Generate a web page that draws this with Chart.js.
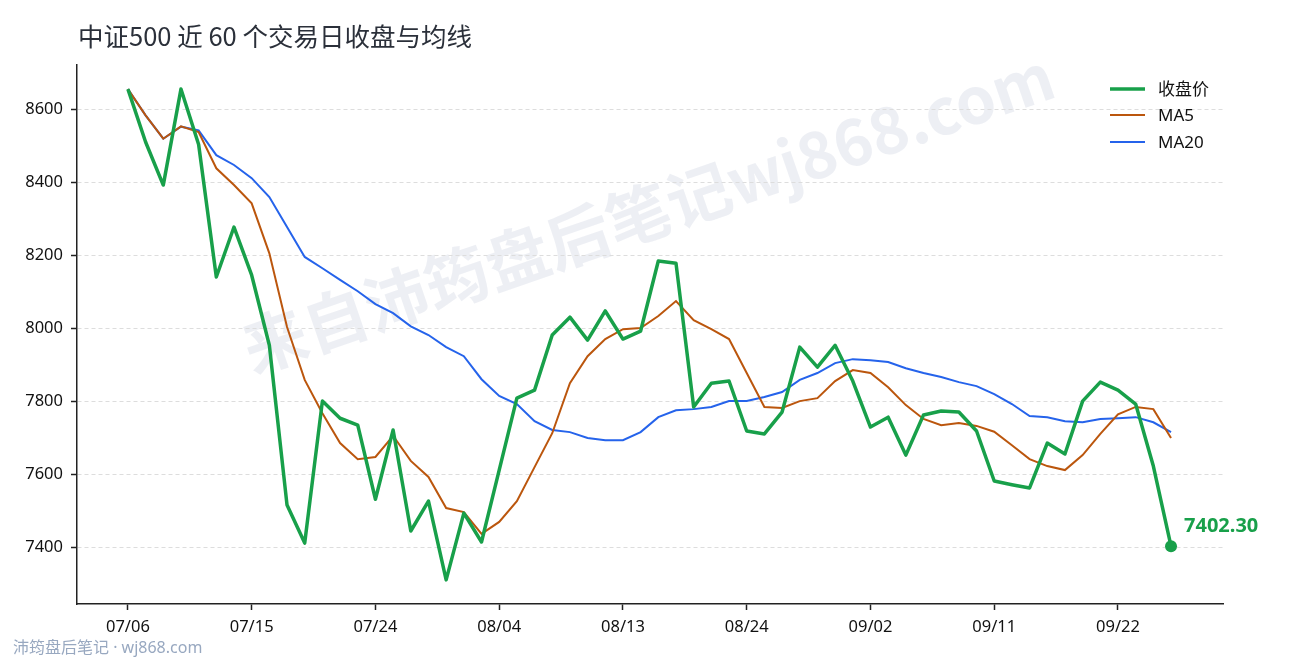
<!DOCTYPE html>
<html>
<head>
<meta charset="utf-8">
<script src="https://cdn.jsdelivr.net/npm/chart.js@4/dist/chart.umd.min.js"></script>
<style>
html,body{margin:0;padding:0;background:#fff;}
#wrap{width:1290px;height:660px;position:relative;}
canvas{display:block;}
</style>
</head>
<body>
<div id="wrap"><canvas id="c" width="1290" height="660"></canvas></div>
<script>
const titleText = '中证500 近 60 个交易日收盘与均线';
const footerText = '沛筠盘后笔记 · wj868.com';
const watermarkText = '来自沛筠盘后笔记wj868.com';
const seriesNames = ['收盘价', 'MA5', 'MA20'];

const dates = ['07/06','07/07','07/08','07/10','07/11','07/12','07/13','07/15',
'07/17','07/18','07/19','07/20','07/21','07/22','07/24',
'07/25','07/26','07/28','07/29','07/31','08/01','08/04',
'08/05','08/07','08/08','08/09','08/10','08/11','08/13',
'08/14','08/15','08/17','08/18','08/21','08/22','08/24',
'08/25','08/28','08/29','08/30','08/31','09/01','09/02',
'09/04','09/05','09/06','09/07','09/08','09/10','09/11',
'09/12','09/14','09/15','09/18','09/19','09/20','09/22',
'09/25','09/26','09/27'];

const closeValues = [8655, 8510, 8392, 8655, 8503, 8140, 8277, 8145, 7953, 7515,
7411, 7800, 7753, 7734, 7531, 7721, 7444, 7526, 7310, 7493,
7414, 7611, 7808, 7830, 7981, 8030, 7967, 8047, 7970, 7992,
8184, 8178, 7784, 7849, 7855, 7718, 7710, 7770, 7948, 7893,
7953, 7855, 7729, 7756, 7652, 7762, 7773, 7770, 7718, 7581,
7571, 7562, 7685, 7655, 7800, 7852, 7830, 7792, 7622, 7402.30];

const ma5Values = [8655, 8583, 8519, 8553, 8537, 8438, 8392, 8342, 8205, 8003,
7858, 7767, 7685, 7641, 7647, 7705, 7636, 7592, 7507, 7496,
7436, 7469, 7526, 7619, 7712, 7849, 7923, 7970, 7997, 8000,
8033, 8074, 8022, 7997, 7970, 7877, 7784, 7781, 7800, 7808,
7855, 7885, 7877, 7838, 7789, 7751, 7734, 7740, 7732, 7716,
7679, 7641, 7622, 7611, 7652, 7710, 7764, 7784, 7778, 7699];

const ma20Values = [8655, 8583, 8519, 8552, 8542, 8474, 8447, 8411, 8359, 8277,
8195, 8164, 8132, 8101, 8066, 8041, 8005, 7981, 7948, 7923,
7860, 7814, 7792, 7745, 7721, 7715, 7699, 7693, 7693, 7715,
7756, 7775, 7778, 7784, 7800, 7800, 7811, 7825, 7858, 7877,
7904, 7915, 7912, 7907, 7890, 7877, 7866, 7852, 7841, 7819,
7792, 7759, 7756, 7745, 7742, 7751, 7753, 7756, 7742, 7715];

const xTickIndices = [0, 7, 14, 21, 28, 35, 42, 49, 56];
const yTickValues = [7400, 7600, 7800, 8000, 8200, 8400, 8600];

const colors = ['#18a04a', '#bb560d', '#2563eb'];
const FONT = '"Noto Sans", "Noto Sans CJK SC", sans-serif';
const CJK = '"Noto Sans CJK SC", "Noto Sans", sans-serif';

const toPts = arr => arr.map((v, i) => ({x: i, y: v}));

const decor = {
  id: 'decor',
  beforeDraw(chart) {
    const ctx = chart.ctx;
    ctx.save();
    ctx.fillStyle = '#fff';
    ctx.fillRect(0, 0, chart.width, chart.height);
    // watermark
    ctx.translate(648, 212);
    ctx.rotate(-19 * Math.PI / 180);
    ctx.font = 'bold 64px ' + CJK;
    ctx.fillStyle = 'rgba(196,202,218,0.30)';
    ctx.textAlign = 'center';
    ctx.textBaseline = 'middle';
    ctx.fillText(watermarkText, 0, 0);
    ctx.restore();
  },
  afterDraw(chart) {
    const ctx = chart.ctx;
    ctx.save();
    // title
    ctx.font = '25.5px ' + CJK;
    ctx.fillStyle = '#2b303a';
    ctx.textAlign = 'left';
    ctx.textBaseline = 'middle';
    ctx.fillText(titleText, 78, 36);
    // legend
    const ly = [89, 115, 142];
    const lw = [3.5, 2, 2];
    for (let i = 0; i < 3; i++) {
      ctx.beginPath();
      ctx.strokeStyle = colors[i];
      ctx.lineWidth = lw[i];
      ctx.moveTo(1110, ly[i]);
      ctx.lineTo(1145, ly[i]);
      ctx.stroke();
      ctx.font = '17px ' + FONT;
      ctx.fillStyle = '#111';
      ctx.fillText(seriesNames[i], 1158, ly[i] + 1);
    }
    // footer
    ctx.font = '16px ' + FONT;
    ctx.fillStyle = '#98a8c0';
    ctx.fillText(footerText, 13, 648);
    // last value annotation
    const meta = chart.getDatasetMeta(0);
    const last = meta.data[meta.data.length - 1];
    ctx.beginPath();
    ctx.fillStyle = colors[0];
    ctx.arc(last.x, last.y, 6, 0, Math.PI * 2);
    ctx.fill();
    ctx.font = 'bold 20px ' + FONT;
    ctx.fillText(closeValues[closeValues.length - 1].toFixed(2), last.x + 13, last.y - 20);
    ctx.restore();
  }
};

new Chart(document.getElementById('c'), {
  type: 'line',
  data: {
    datasets: [
      {label: seriesNames[0], data: toPts(closeValues), borderColor: colors[0], borderWidth: 3.5, pointRadius: 0, tension: 0, borderJoinStyle: 'round'},
      {label: seriesNames[1], data: toPts(ma5Values), borderColor: colors[1], borderWidth: 2, pointRadius: 0, tension: 0},
      {label: seriesNames[2], data: toPts(ma20Values), borderColor: colors[2], borderWidth: 2, pointRadius: 0, tension: 0}
    ]
  },
  options: {
    responsive: false,
    animation: false,
    devicePixelRatio: 1,
    layout: {padding: {top: 65, right: 67, left: 0, bottom: 0}},
    plugins: {legend: {display: false}, title: {display: false}, tooltip: {enabled: false}},
    scales: {
      x: {
        type: 'linear',
        min: -2.88,
        max: 61.94,
        afterBuildTicks: s => { s.ticks = xTickIndices.map(v => ({value: v})); },
        afterFit: s => { s.height = 56; },
        ticks: {
          autoSkip: false, maxRotation: 0, padding: 7,
          color: '#111', font: {size: 16.5, family: FONT},
          callback: v => dates[v]
        },
        grid: {drawOnChartArea: false, drawTicks: true, tickLength: 6, tickColor: '#222', tickWidth: 1.5},
        border: {display: true, color: '#222', width: 1.5}
      },
      y: {
        min: 7244,
        max: 8721,
        afterBuildTicks: s => { s.ticks = yTickValues.map(v => ({value: v})); },
        afterFit: s => { s.width = 77; },
        ticks: {padding: 8, color: '#111', font: {size: 16.5, family: FONT}, callback: v => String(v)},
        grid: {color: '#dddddd', lineWidth: 1, drawTicks: true, tickLength: 6, tickColor: '#222', tickWidth: 1.5},
        border: {display: true, color: '#222', width: 1.5, dash: [4, 3]}
      }
    }
  },
  plugins: [decor]
});
</script>
</body>
</html>
